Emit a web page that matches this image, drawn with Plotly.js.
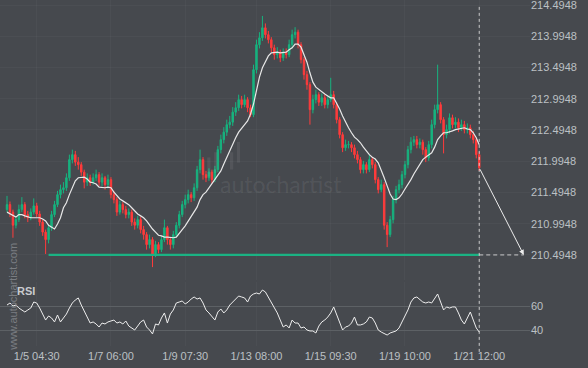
<!DOCTYPE html>
<html>
<head>
<meta charset="utf-8">
<script src="https://cdn.plot.ly/plotly-3.0.1.min.js"></script>
<style>html,body{margin:0;padding:0;background:#46494e;}#chart{width:588px;height:368px;}</style>
</head>
<body>
<div id="chart"></div>
<script>
// ---- data ----
const openP = [211.22,211.30,211.18,210.97,211.06,211.22,211.30,211.14,211.09,211.18,
211.28,211.15,211.02,210.86,210.74,210.93,211.14,211.30,211.46,211.54,
211.57,211.73,212.02,212.10,211.98,211.94,211.82,211.66,211.73,211.66,
211.73,211.78,211.66,211.73,211.62,211.70,211.46,211.38,211.18,211.30,
211.22,211.14,211.18,211.02,210.97,211.06,210.90,210.82,210.66,210.74,
210.50,210.66,210.58,210.74,210.93,210.74,210.66,210.82,210.97,211.14,
211.30,211.38,211.46,211.41,211.57,211.86,212.02,211.78,211.73,211.82,
211.70,211.86,212.18,212.34,212.46,212.58,212.62,212.78,212.85,212.98,
212.90,212.98,212.85,212.74,213.46,213.86,213.97,214.13,214.02,213.94,
213.81,213.70,213.74,213.65,213.74,213.70,213.86,214.02,214.06,213.86,
213.62,213.38,213.22,212.82,212.98,213.06,212.94,213.01,212.90,212.98,
213.06,212.90,212.66,212.42,212.21,212.26,212.26,212.21,212.10,212.02,
211.86,211.94,211.86,212.02,211.94,211.70,211.54,211.62,210.97,210.82,
211.06,211.38,211.54,211.62,211.78,211.94,212.18,212.30,212.34,212.26,
212.30,212.18,212.05,212.26,212.58,212.82,212.90,212.66,212.42,212.50,
212.69,212.58,212.62,212.53,212.58,212.50,212.53,212.42,212.34,212.10];
const highP = [211.44,211.35,211.22,211.12,211.30,211.42,211.34,211.20,211.24,211.40,
211.33,211.20,211.06,210.90,210.98,211.20,211.36,211.52,211.62,211.66,
211.80,212.10,212.18,212.16,212.06,211.98,211.86,211.80,211.78,211.80,
211.86,211.82,211.80,211.76,211.78,211.74,211.52,211.42,211.36,211.34,
211.28,211.24,211.22,211.08,211.12,211.10,210.96,210.86,210.82,210.78,
210.72,210.70,210.80,211.06,210.96,210.78,210.88,211.02,211.20,211.36,
211.46,211.54,211.50,211.64,211.92,212.18,212.06,211.84,211.88,211.86,
211.92,212.24,212.42,212.54,212.66,212.72,212.86,212.94,213.06,213.04,
213.06,213.02,212.90,213.54,213.94,214.06,214.32,214.20,214.08,213.98,
213.86,213.82,213.78,213.80,213.80,213.94,214.10,214.14,214.10,213.90,
213.66,213.44,213.26,213.06,213.14,213.10,213.08,213.06,213.04,213.33,
213.12,212.94,212.70,212.46,212.34,212.32,212.30,212.26,212.16,212.06,
212.00,211.98,212.10,212.06,211.98,211.74,211.70,211.66,211.02,211.12,
211.44,211.60,211.70,211.84,212.00,212.24,212.38,212.40,212.40,212.36,
212.34,212.22,212.32,212.66,212.90,213.54,212.94,212.70,212.58,212.76,
212.74,212.70,212.68,212.66,212.64,212.60,212.58,212.48,212.38,212.14];
const lowP = [211.18,211.10,210.77,210.92,211.02,211.18,211.08,211.02,211.05,211.14,
211.10,210.96,210.80,210.51,210.68,210.88,211.10,211.26,211.40,211.48,
211.52,211.68,211.96,211.92,211.86,211.76,211.56,211.60,211.60,211.62,
211.68,211.60,211.60,211.54,211.56,211.40,211.32,211.12,211.14,211.16,
211.08,211.08,210.96,210.90,210.92,210.84,210.74,210.58,210.60,210.30,
210.46,210.52,210.54,210.70,210.66,210.58,210.60,210.78,210.92,211.10,
211.24,211.32,211.34,211.36,211.52,211.80,211.70,211.66,211.68,211.64,
211.66,211.82,212.12,212.28,212.40,212.52,212.56,212.72,212.80,212.84,
212.86,212.78,212.70,212.70,213.40,213.80,213.92,213.96,213.88,213.74,
213.62,213.64,213.58,213.60,213.64,213.66,213.80,213.96,213.80,213.56,
213.30,213.14,212.58,212.76,212.92,212.88,212.88,212.84,212.84,212.94,
212.84,212.60,212.36,212.14,212.16,212.20,212.14,212.04,211.96,211.80,
211.80,211.80,211.82,211.88,211.64,211.48,211.50,210.90,210.62,210.78,
211.00,211.32,211.48,211.56,211.72,211.88,212.12,212.24,212.20,212.20,
212.10,211.98,212.00,212.20,212.52,212.76,212.60,212.12,212.36,212.44,
212.52,212.52,212.46,212.48,212.44,212.44,212.36,212.28,212.04,211.84];
const closeP = [211.30,211.18,210.97,211.06,211.22,211.30,211.14,211.09,211.18,211.28,
211.15,211.02,210.86,210.74,210.93,211.14,211.30,211.46,211.54,211.57,
211.73,212.02,212.10,211.98,211.94,211.82,211.66,211.73,211.66,211.73,
211.78,211.66,211.73,211.62,211.70,211.46,211.38,211.18,211.30,211.22,
211.14,211.18,211.02,210.97,211.06,210.90,210.82,210.66,210.74,210.50,
210.66,210.58,210.74,210.93,210.74,210.66,210.82,210.97,211.14,211.30,
211.38,211.46,211.41,211.57,211.86,212.02,211.78,211.73,211.82,211.70,
211.86,212.18,212.34,212.46,212.58,212.62,212.78,212.85,212.98,212.90,
212.98,212.85,212.74,213.46,213.86,213.97,214.13,214.02,213.94,213.81,
213.70,213.74,213.65,213.74,213.70,213.86,214.02,214.06,213.86,213.62,
213.38,213.22,212.82,212.98,213.06,212.94,213.01,212.90,212.98,213.06,
212.90,212.66,212.42,212.21,212.26,212.26,212.21,212.10,212.02,211.86,
211.94,211.86,212.02,211.94,211.70,211.54,211.62,210.97,210.82,211.06,
211.38,211.54,211.62,211.78,211.94,212.18,212.30,212.34,212.26,212.30,
212.18,212.05,212.26,212.58,212.82,212.90,212.66,212.42,212.50,212.69,
212.58,212.62,212.53,212.58,212.50,212.53,212.42,212.34,212.10,211.89];
const maP = [211.18,211.15,211.12,211.10,211.14,211.14,211.12,211.10,211.09,211.09,
211.09,211.09,211.07,211.04,210.97,210.94,210.91,210.99,211.09,211.25,
211.33,211.46,211.58,211.68,211.73,211.74,211.74,211.71,211.66,211.65,
211.63,211.58,211.57,211.57,211.58,211.57,211.50,211.44,211.39,211.36,
211.33,211.30,211.25,211.20,211.15,211.12,211.09,211.04,210.97,210.91,
210.86,210.81,210.80,210.78,210.78,210.77,210.77,210.78,210.85,210.90,
210.96,211.04,211.12,211.20,211.26,211.38,211.46,211.50,211.57,211.63,
211.70,211.76,211.84,211.95,212.06,212.18,212.29,212.37,212.46,212.53,
212.58,212.64,212.75,212.91,213.14,213.34,213.49,213.60,213.68,213.73,
213.74,213.74,213.73,213.73,213.74,213.78,213.81,213.87,213.87,213.82,
213.71,213.58,213.41,213.26,213.18,213.14,213.10,213.07,213.04,213.01,
213.01,212.93,212.83,212.72,212.61,212.53,212.45,212.38,212.34,212.29,
212.22,212.16,212.10,212.06,212.03,211.97,211.86,211.73,211.60,211.47,
211.39,211.38,211.41,211.47,211.55,211.62,211.70,211.79,211.87,211.94,
212.02,212.06,212.10,212.13,212.22,212.34,212.40,212.45,212.45,212.46,
212.48,212.50,212.51,212.53,212.53,212.51,212.50,212.45,212.37,212.26];
const rsi = [60.8,62.5,60.0,60.8,58.3,56.7,55.0,56.7,58.3,63.3,
62.5,58.3,53.3,48.3,51.7,50.0,46.7,52.5,46.7,50.0,
53.3,58.3,62.5,65.0,66.7,60.8,55.8,51.7,45.8,46.7,
45.0,42.5,45.8,45.0,46.7,47.5,48.3,45.8,46.7,45.0,
47.5,43.3,41.7,40.0,43.3,46.7,48.3,42.5,40.0,36.7,
45.0,44.2,50.0,54.2,45.8,53.3,56.7,62.5,63.3,64.2,
61.7,63.3,65.8,67.5,65.8,66.7,62.5,56.7,54.2,50.8,
48.3,55.0,57.5,54.2,56.7,60.8,63.3,65.8,68.3,67.5,
66.7,63.3,68.3,70.0,70.8,70.0,73.3,71.7,67.5,62.5,
58.3,54.2,48.3,42.5,44.2,41.7,48.3,45.8,45.8,41.7,
42.5,40.0,39.2,39.2,37.5,43.3,46.7,48.3,50.8,54.2,
59.2,53.3,46.7,40.0,42.5,43.3,45.8,50.8,44.2,44.2,
45.0,46.7,50.8,50.0,45.8,40.0,38.3,36.7,35.8,37.5,
38.3,39.2,41.7,46.7,51.7,56.7,63.3,66.7,67.5,65.0,
63.3,62.5,63.3,62.5,66.7,70.0,63.3,56.7,59.2,58.3,
59.2,59.2,54.2,48.3,45.0,50.0,55.0,48.3,41.7,38.3];
const tickIdx = [10, 35, 60, 84, 109, 134, 159];
const tickLabels = ['1/5 04:30','1/7 06:00','1/9 07:30','1/13 08:00','1/15 09:30','1/19 10:00','1/21 12:00'];
const priceTicks = [210.4948,210.9948,211.4948,211.9948,212.4948,212.9948,213.4948,213.9948,214.4948];
const rsiTicks = [40, 60];
const supportLevel = 210.4948;
const supportStartIdx = 14;

// ---- chart ----
const idx = closeP.map((_, i) => i);
const last = idx.length - 1;
const projIdx = last + 15;
const bg = '#46494e';
const txt = '#bcc0c4';
const green = '#17b37f';
const red = '#ff3b3b';
const wm = 'rgba(255,255,255,0.07)';

const traces = [
  {
    type: 'candlestick', x: idx, open: openP, high: highP, low: lowP, close: closeP,
    xaxis: 'x', yaxis: 'y', whiskerwidth: 0, hoverinfo: 'skip', showlegend: false,
    increasing: {line: {color: green, width: 1}, fillcolor: green},
    decreasing: {line: {color: red, width: 1}, fillcolor: red}
  },
  {
    type: 'scatter', mode: 'lines', x: idx, y: maP, xaxis: 'x', yaxis: 'y',
    line: {color: '#e8e8e8', width: 1.2}, hoverinfo: 'skip', showlegend: false
  },
  {
    type: 'scatter', mode: 'lines', x: [supportStartIdx, last], y: [supportLevel, supportLevel],
    xaxis: 'x', yaxis: 'y', line: {color: '#1bb283', width: 2.2}, hoverinfo: 'skip', showlegend: false
  },
  {
    type: 'scatter', mode: 'lines', x: idx, y: rsi, xaxis: 'x', yaxis: 'y2',
    line: {color: '#eeeeee', width: 1}, hoverinfo: 'skip', showlegend: false
  }
];

const layout = {
  width: 588, height: 368,
  paper_bgcolor: bg, plot_bgcolor: bg,
  margin: {l: 0, r: 58, t: 0, b: 22},
  showlegend: false,
  font: {family: 'Liberation Sans, Arial, sans-serif', size: 11, color: txt},
  xaxis: {
    range: [-2.36, 176.1], anchor: 'y2', tickvals: tickIdx, ticktext: tickLabels,
    showgrid: true, gridcolor: 'rgba(255,255,255,0.03)', zeroline: false, showline: false,
    ticks: '', rangeslider: {visible: false}, tickfont: {size: 11, color: txt}, fixedrange: true,
    ticklabeloverflow: 'allow', ticklabelstandoff: 2
  },
  yaxis: {
    domain: [0.191, 1], range: [210.095, 214.575], side: 'right', anchor: 'x',
    tickvals: priceTicks, tickformat: '.4f', showgrid: true, gridcolor: 'rgba(255,255,255,0.03)',
    zeroline: false, showline: false, ticks: '', tickfont: {size: 11, color: txt},
    ticklabeloverflow: 'allow'
  },
  yaxis2: {
    domain: [0, 0.185], range: [26.67, 80], side: 'right', anchor: 'x',
    tickvals: rsiTicks, showgrid: true, gridcolor: '#5d6165', gridwidth: 1,
    zeroline: false, showline: false, ticks: '', tickfont: {size: 11, color: txt},
    ticklabeloverflow: 'allow'
  },
  shapes: [
    {type: 'line', xref: 'x', yref: 'paper', x0: last, x1: last, y0: -0.017, y1: 0.986,
     line: {color: 'rgba(225,225,225,0.85)', width: 1, dash: '3px,3px'}},
    {type: 'line', xref: 'x', yref: 'y', x0: last, x1: projIdx, y0: supportLevel, y1: supportLevel,
     line: {color: 'rgba(225,225,225,0.85)', width: 1, dash: '4px,3px'}},
    // faint watermark logo bars
    {type: 'rect', xref: 'paper', yref: 'paper', x0: 0.391, x1: 0.397, y0: 0.49, y1: 0.545, line: {width: 0}, fillcolor: wm},
    {type: 'rect', xref: 'paper', yref: 'paper', x0: 0.404, x1: 0.410, y0: 0.50, y1: 0.56, line: {width: 0}, fillcolor: wm},
    {type: 'rect', xref: 'paper', yref: 'paper', x0: 0.434, x1: 0.440, y0: 0.51, y1: 0.56, line: {width: 0}, fillcolor: wm},
    {type: 'rect', xref: 'paper', yref: 'paper', x0: 0.447, x1: 0.453, y0: 0.53, y1: 0.59, line: {width: 0}, fillcolor: wm}
  ],
  annotations: [
    {x: projIdx, y: supportLevel, xref: 'x', yref: 'y', ax: last, ay: closeP[last], axref: 'x', ayref: 'y',
     text: '', showarrow: true, arrowhead: 2, arrowsize: 1, arrowwidth: 1, arrowcolor: '#ececec'},
    {x: 0.531, y: 0.468, xref: 'paper', yref: 'paper', xanchor: 'center', yanchor: 'middle',
     text: 'autochartist', showarrow: false,
     font: {family: 'Lato, Noto Sans, sans-serif', size: 23, color: 'rgba(255,255,255,0.08)'}},
    {x: 0.0245, y: 0.142, xref: 'paper', yref: 'paper', xanchor: 'center', yanchor: 'middle',
     text: 'www.autochartist.com', showarrow: false,
     textangle: -90, font: {size: 11, color: '#7a7d82'}},
    {x: 0.028, y: 0.159, xref: 'paper', yref: 'paper', xanchor: 'left', yanchor: 'middle',
     text: '<b>RSI</b>', showarrow: false, font: {size: 11, color: '#c8cbcf'}}
  ]
};

Plotly.newPlot('chart', traces, layout, {staticPlot: true, displayModeBar: false});
</script>
</body>
</html>
